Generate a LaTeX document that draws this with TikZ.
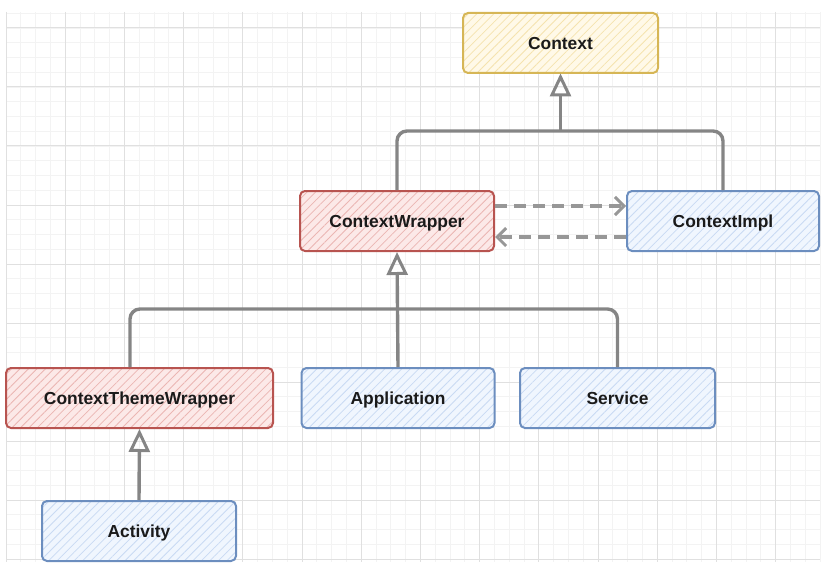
\documentclass[tikz,border=0pt]{standalone}
\usepackage{fontspec}
\setmainfont{Liberation Sans}
\usetikzlibrary{arrows.meta,patterns.meta}
\definecolor{yfill}{HTML}{FFF2CC}\definecolor{yline}{HTML}{D6B656}
\definecolor{rfill}{HTML}{F8CECC}\definecolor{rline}{HTML}{B85450}
\definecolor{bfill}{HTML}{DAE8FC}\definecolor{bline}{HTML}{6C8EBF}
\definecolor{conn}{HTML}{858585}
\definecolor{dconn}{HTML}{979797}
\definecolor{gmaj}{HTML}{E0E0E0}
\definecolor{gmin}{HTML}{F3F3F3}
\definecolor{txt}{HTML}{1A1A1A}
\tikzset{
  box/.style={rectangle, rounded corners=5pt, line width=2pt, minimum height=60pt,
    inner sep=0pt, text height=12.5pt, text depth=0pt, text=txt,
    font=\bfseries\fontsize{17.4}{20}\selectfont},
  ybox/.style={box, draw=yline, preaction={fill=yfill!45!white},
    pattern={Lines[angle=45,distance=6pt,line width=0.8pt]}, pattern color=yfill!75!yline},
  rbox/.style={box, draw=rline, preaction={fill=rfill!45!white},
    pattern={Lines[angle=45,distance=6pt,line width=0.8pt]}, pattern color=rfill!80!rline},
  bbox/.style={box, draw=bline, preaction={fill=bfill!40!white},
    pattern={Lines[angle=45,distance=6pt,line width=0.8pt]}, pattern color=bfill!85!bline},
  link/.style={draw=conn, line width=3.4pt, rounded corners=10pt},
  inh/.style={link, -{Triangle[open,length=23pt,width=21pt,line width=3pt]}},
  dlink/.style={draw=dconn, line width=3.4pt, dash pattern=on 12pt off 7pt,
    -{Straight Barb[length=9pt,width=18pt,line width=3pt]}},
}
\begin{document}
\begin{tikzpicture}[x=1pt,y=-1pt]
\useasboundingbox (0,0) rectangle (827,567);
% grid
\foreach \i in {0,...,55} \draw[gmin, line width=0.8pt] ({6+\i*14.8},12) -- ({6+\i*14.8},562);
\foreach \j in {0,...,37} \draw[gmin, line width=0.8pt] (6,{13.25+\j*14.75}) -- (820,{13.25+\j*14.75});
\foreach \i in {0,...,13} \draw[gmaj, line width=1pt] ({6+\i*59.2},12) -- ({6+\i*59.2},562);
\foreach \j in {0,...,9} \draw[gmaj, line width=1pt] (6,{28+\j*59}) -- (820,{28+\j*59});
% nodes
\node[ybox, minimum width=195pt] (ctx) at (560.5,43) {Context};
\node[rbox, minimum width=194pt] (cw) at (397,221) {ContextWrapper};
\node[bbox, minimum width=192pt] (ci) at (723,221) {ContextImpl};
\node[rbox, minimum width=267pt] (ctw) at (139.5,398) {ContextThemeWrapper};
\node[bbox, minimum width=193pt] (app) at (398,398) {Application};
\node[bbox, minimum width=195pt] (svc) at (617.5,398) {Service};
\node[bbox, minimum width=194pt] (act) at (139,531) {Activity};
% connectors
\coordinate (j1) at (ctx.south |- 0,131);
\draw[link] (cw.north) |- (j1) -| (ci.north);
\draw[inh] (j1) -- (ctx.south);
\coordinate (j2) at (app.north |- 0,309);
\draw[link] ([xshift=-9.5pt]ctw.north) |- (j2) -| (svc.north);
\draw[inh] (app.north) -- (cw.south);
\draw[inh] (act.north) -- (ctw.south);
\draw[dlink] ([yshift=15pt]cw.east) -- ([yshift=15pt]ci.west);
\draw[dlink] ([yshift=-16pt]ci.west) -- ([yshift=-16pt]cw.east);
\end{tikzpicture}
\end{document}
